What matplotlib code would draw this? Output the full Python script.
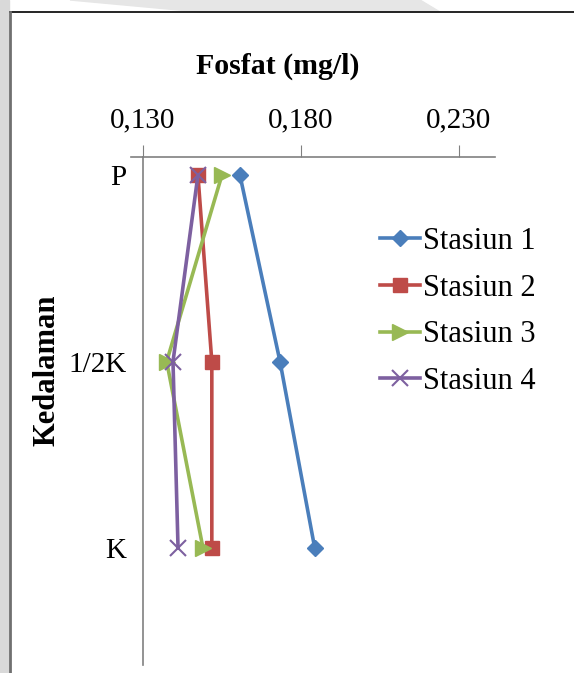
import matplotlib.pyplot as plt
from matplotlib.lines import Line2D
from matplotlib.patches import Polygon, Rectangle

plt.rcParams['font.family'] = ['Liberation Serif', 'DejaVu Serif']

depths = ["P", "1/2K", "K"]
stasiun1 = [0.1607, 0.1734, 0.1844]
stasiun2 = [0.1474, 0.1518, 0.1518]
stasiun3 = [0.1550, 0.1375, 0.1490]
stasiun4 = [0.1474, 0.1395, 0.1411]
x_ticks = [0.130, 0.180, 0.230]
x_tick_labels = ["0,130", "0,180", "0,230"]

W, H = 574, 673
fig = plt.figure(figsize=(W / 100, H / 100), dpi=100)

# page background: grey margin, watermark and frame
fig.patches.append(Rectangle((0, 0), 9 / W, 1, transform=fig.transFigure,
                             color='#d9d9d9', zorder=0))
fig.patches.append(Polygon([(70 / W, 1), (420 / W, 1), (440 / W, 1 - 12 / H),
                            (200 / W, 1 - 12 / H)], closed=True,
                           transform=fig.transFigure, color='#e6e6e6', zorder=0))
fig.lines.append(Line2D([9.5 / W, 1], [1 - 12 / H, 1 - 12 / H],
                        transform=fig.transFigure, color='black', lw=1.2))
fig.lines.append(Line2D([9.5 / W, 9.5 / W], [0, 1 - 12 / H],
                        transform=fig.transFigure, color='#707070', lw=2))

ax = fig.add_axes([143 / W, 8 / H, (495 - 143) / W, (665 - 157) / H])
pos = list(range(len(depths)))

ax.plot(stasiun1, pos, color='#4a7ebb', lw=2.6, marker='D', ms=8, label='Stasiun 1')
ax.plot(stasiun2, pos, color='#be4b48', lw=2.6, marker='s', ms=10, label='Stasiun 2')
ax.plot(stasiun3, pos, color='#98b954', lw=2.6, marker='>', ms=11, label='Stasiun 3')
ax.plot(stasiun4, pos, color='#7d60a0', lw=2.6, marker='x', ms=11, mew=1.5,
        label='Stasiun 4')

ax.set_xlim(0.130, 0.2415)
ax.set_ylim(2.627, -0.097)

ax.xaxis.tick_top()
ax.set_xticks(x_ticks)
ax.set_xticklabels(x_tick_labels, fontsize=21)
ax.tick_params(axis='x', direction='out', length=9, color='#808080', pad=8)
ax.set_yticks(pos)
ax.set_yticklabels(depths, fontsize=21)
ax.tick_params(axis='y', length=0, pad=12)

for s in ['right', 'bottom']:
    ax.spines[s].set_visible(False)
for s in ['left', 'top']:
    ax.spines[s].set_color('#808080')
    ax.spines[s].set_linewidth(1.2)
fig.lines.append(Line2D([131 / W, 143 / W], [1 - 157 / H, 1 - 157 / H],
                        transform=fig.transFigure, color='#808080', lw=1.2))

fig.text(278 / W, 1 - 66 / H, 'Fosfat (mg/l)', fontsize=21.5, fontweight='bold',
         ha='center', va='center')
fig.text(47 / W, 1 - 370 / H, 'Kedalaman', fontsize=22, fontweight='bold',
         ha='center', va='center', rotation=90)

ax.legend(loc='upper left', bbox_to_anchor=(380 / W, 1 - 227 / H),
          bbox_transform=fig.transFigure, frameon=False, fontsize=22,
          handlelength=1.3, handletextpad=0.1, labelspacing=0.58,
          borderpad=0, borderaxespad=0)

fig.savefig('out.png', dpi=100)
